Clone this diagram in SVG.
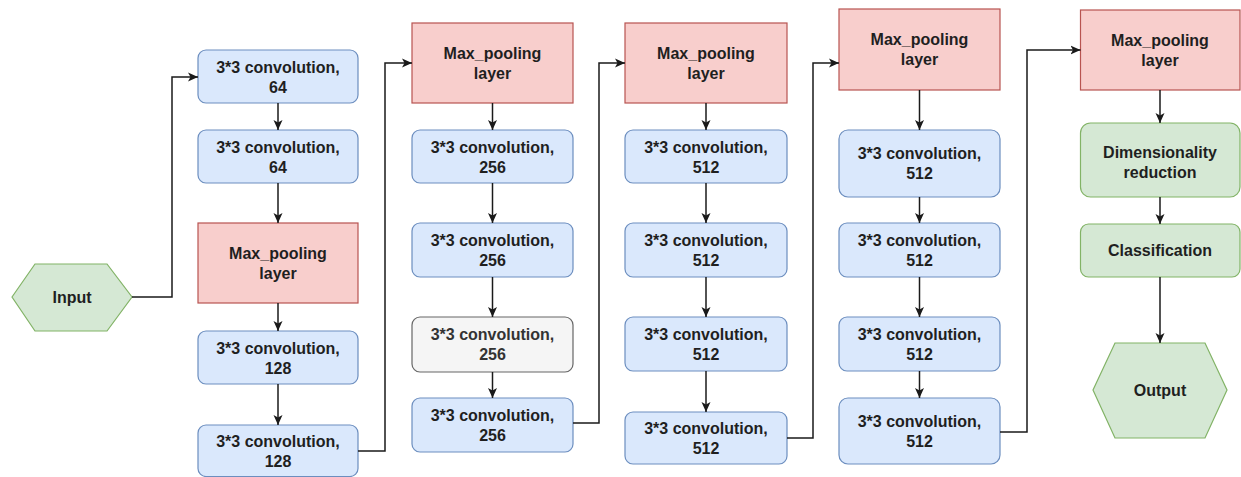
<svg xmlns="http://www.w3.org/2000/svg" width="1241" height="477" viewBox="0 0 1241 477">
  <defs>
    <marker id="arrow" markerUnits="userSpaceOnUse" markerWidth="12" markerHeight="10" refX="10" refY="5" orient="auto">
      <path d="M0,0.5 L10,5 L0,9.5 L2.5,5 Z" fill="#1a1a1a"/>
    </marker>
    <style>
      text { font-family: "Liberation Sans", Arial, sans-serif; font-size: 16px; font-weight: bold; fill: #1f1f1f; text-anchor: middle; }
      .conv rect { fill: #dae8fc; stroke: #6c8ebf; stroke-width: 1.2; }
      .pool rect { fill: #f8cecc; stroke: #b85450; stroke-width: 1.2; }
      .green rect, .green polygon { fill: #d5e8d4; stroke: #82b366; stroke-width: 1.2; }
      .gray rect { fill: #f5f5f5; stroke: #666666; stroke-width: 1.2; }
      .gray text { fill: #333333; }
      #connectors path { fill: none; stroke: #1a1a1a; stroke-width: 1.5; marker-end: url(#arrow); }
    </style>
  </defs>
  <rect width="1241" height="477" fill="#ffffff"/>

  <!-- Input -->
  <g id="input" class="green">
    <polygon points="12,297 35,264 107,264 132,297 107,331 35,331"/>
    <text x="72" y="303">Input</text>
  </g>

  <!-- Block 1 -->
  <g id="c1b1" class="conv">
    <rect x="198" y="50" width="160" height="53" rx="8"/>
    <text x="278" y="72.5">3*3 convolution,</text>
    <text x="278" y="92.5">64</text>
  </g>
  <g id="c1b2" class="conv">
    <rect x="198" y="130" width="160" height="53" rx="8"/>
    <text x="278" y="152.5">3*3 convolution,</text>
    <text x="278" y="172.5">64</text>
  </g>
  <g id="pool1" class="pool">
    <rect x="198" y="223" width="160" height="80"/>
    <text x="278" y="258.7">Max_pooling</text>
    <text x="278" y="278.7">layer</text>
  </g>
  <g id="c1b3" class="conv">
    <rect x="198" y="331" width="160" height="53" rx="8"/>
    <text x="278" y="353.5">3*3 convolution,</text>
    <text x="278" y="373.5">128</text>
  </g>
  <g id="c1b4" class="conv">
    <rect x="198" y="425" width="160" height="51.5" rx="8"/>
    <text x="278" y="446.5">3*3 convolution,</text>
    <text x="278" y="466.5">128</text>
  </g>

  <!-- Block 2 -->
  <g id="pool2" class="pool">
    <rect x="412" y="23" width="161" height="80"/>
    <text x="492.5" y="58.7">Max_pooling</text>
    <text x="492.5" y="78.7">layer</text>
  </g>
  <g id="c2b1" class="conv">
    <rect x="412" y="130" width="161" height="53" rx="8"/>
    <text x="492.5" y="152.5">3*3 convolution,</text>
    <text x="492.5" y="172.5">256</text>
  </g>
  <g id="c2b2" class="conv">
    <rect x="412" y="223" width="161" height="54" rx="8"/>
    <text x="492.5" y="245.7">3*3 convolution,</text>
    <text x="492.5" y="265.7">256</text>
  </g>
  <g id="c2b3" class="gray">
    <rect x="412" y="317" width="161" height="55" rx="8"/>
    <text x="492.5" y="340.2">3*3 convolution,</text>
    <text x="492.5" y="360.2">256</text>
  </g>
  <g id="c2b4" class="conv">
    <rect x="412" y="398" width="161" height="54" rx="8"/>
    <text x="492.5" y="420.7">3*3 convolution,</text>
    <text x="492.5" y="440.7">256</text>
  </g>

  <!-- Block 3 -->
  <g id="pool3" class="pool">
    <rect x="625" y="23" width="162" height="80"/>
    <text x="706" y="58.7">Max_pooling</text>
    <text x="706" y="78.7">layer</text>
  </g>
  <g id="c3b1" class="conv">
    <rect x="625" y="130" width="162" height="53" rx="8"/>
    <text x="706" y="152.5">3*3 convolution,</text>
    <text x="706" y="172.5">512</text>
  </g>
  <g id="c3b2" class="conv">
    <rect x="625" y="223" width="162" height="54" rx="8"/>
    <text x="706" y="245.7">3*3 convolution,</text>
    <text x="706" y="265.7">512</text>
  </g>
  <g id="c3b3" class="conv">
    <rect x="625" y="317" width="162" height="54" rx="8"/>
    <text x="706" y="339.7">3*3 convolution,</text>
    <text x="706" y="359.7">512</text>
  </g>
  <g id="c3b4" class="conv">
    <rect x="625" y="412" width="162" height="52" rx="8"/>
    <text x="706" y="433.7">3*3 convolution,</text>
    <text x="706" y="453.7">512</text>
  </g>

  <!-- Block 4 -->
  <g id="pool4" class="pool">
    <rect x="839" y="9" width="161" height="81"/>
    <text x="919.5" y="45.2">Max_pooling</text>
    <text x="919.5" y="65.2">layer</text>
  </g>
  <g id="c4b1" class="conv">
    <rect x="839" y="130" width="161" height="67" rx="9"/>
    <text x="919.5" y="159.2">3*3 convolution,</text>
    <text x="919.5" y="179.2">512</text>
  </g>
  <g id="c4b2" class="conv">
    <rect x="839" y="223" width="161" height="54" rx="8"/>
    <text x="919.5" y="245.7">3*3 convolution,</text>
    <text x="919.5" y="265.7">512</text>
  </g>
  <g id="c4b3" class="conv">
    <rect x="839" y="317" width="161" height="54" rx="8"/>
    <text x="919.5" y="339.7">3*3 convolution,</text>
    <text x="919.5" y="359.7">512</text>
  </g>
  <g id="c4b4" class="conv">
    <rect x="839" y="398" width="161" height="66" rx="9"/>
    <text x="919.5" y="426.7">3*3 convolution,</text>
    <text x="919.5" y="446.7">512</text>
  </g>

  <!-- Head -->
  <g id="pool5" class="pool">
    <rect x="1080.5" y="10" width="159.5" height="80"/>
    <text x="1160" y="45.7">Max_pooling</text>
    <text x="1160" y="65.7">layer</text>
  </g>
  <g id="dimred" class="green">
    <rect x="1080.5" y="123" width="159.5" height="74" rx="10"/>
    <text x="1160" y="157.7">Dimensionality</text>
    <text x="1160" y="177.7">reduction</text>
  </g>
  <g id="classification" class="green">
    <rect x="1080.5" y="224" width="159.5" height="53" rx="8"/>
    <text x="1160" y="256.2">Classification</text>
  </g>
  <g id="output" class="green">
    <polygon points="1093,390 1115,343 1205,343 1227,390 1205,438 1115,438"/>
    <text x="1160" y="396">Output</text>
  </g>

  <!-- Connectors -->
  <g id="connectors">
    <path d="M132,297 H172 V77 H198"/>
    <path d="M278,103 V130"/>
    <path d="M278,183 V223"/>
    <path d="M278,303 V331"/>
    <path d="M278,384 V425"/>
    <path d="M358,451 H385 V63 H412"/>

    <path d="M492.5,103 V130"/>
    <path d="M492.5,183 V223"/>
    <path d="M492.5,277 V317"/>
    <path d="M492.5,372 V398"/>
    <path d="M573,423 H599 V63 H625"/>

    <path d="M706,103 V130"/>
    <path d="M706,183 V223"/>
    <path d="M706,277 V317"/>
    <path d="M706,371 V412"/>
    <path d="M787,438 H813 V63 H839"/>

    <path d="M919.5,90 V130"/>
    <path d="M919.5,197 V223"/>
    <path d="M919.5,277 V317"/>
    <path d="M919.5,371 V398"/>
    <path d="M1000,432 H1027 V50 H1080.5"/>

    <path d="M1160,90 V123"/>
    <path d="M1160,197 V224"/>
    <path d="M1160,277 V343"/>
  </g>
</svg>
